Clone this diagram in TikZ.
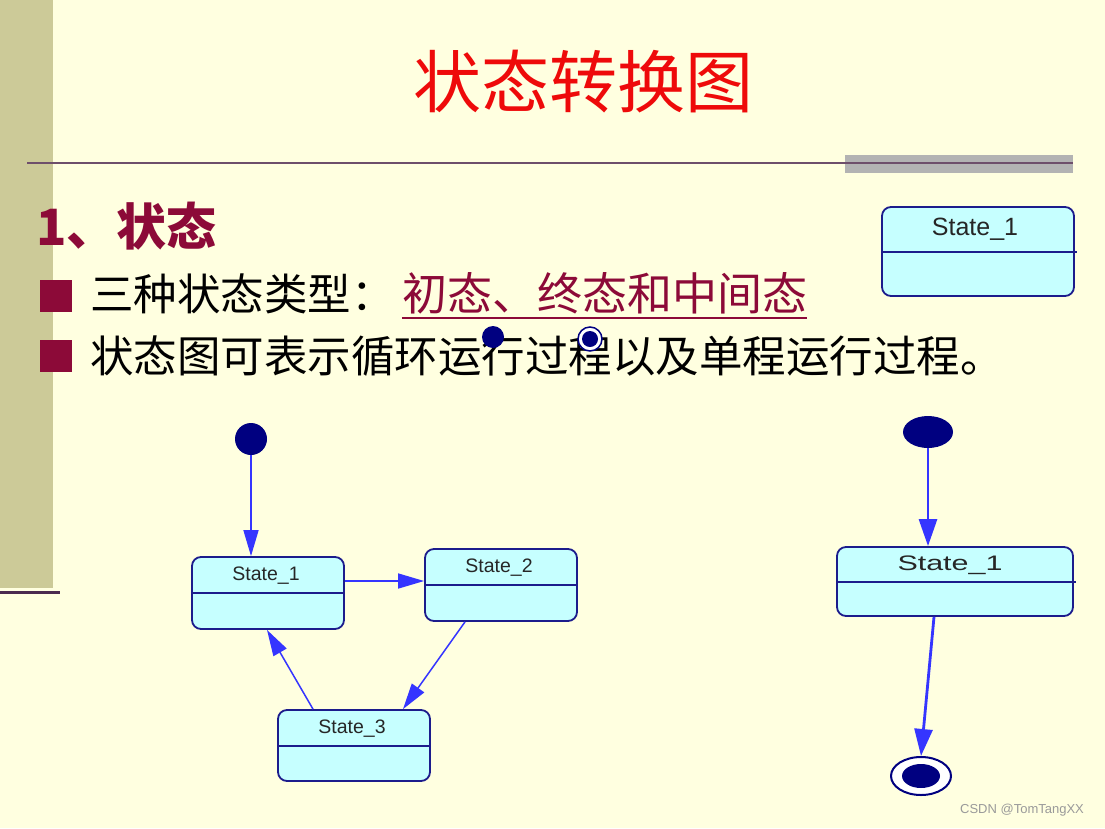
\documentclass[tikz,border=0pt]{standalone}
\usepackage{fontspec}
\setmainfont{Liberation Sans}
\newfontfamily\cjk{Noto Sans CJK SC}
\usetikzlibrary{arrows.meta,shapes.geometric}
\definecolor{bgc}{HTML}{FFFFE0}
\definecolor{barc}{HTML}{CCCA98}
\definecolor{hlinec}{HTML}{6E4F6B}
\definecolor{botline}{HTML}{4B2A4F}
\definecolor{grayc}{HTML}{B3B3B3}
\definecolor{titlered}{HTML}{EE0A0A}
\definecolor{darkred}{HTML}{8C0A38}
\definecolor{navy}{HTML}{000080}
\definecolor{boxfill}{HTML}{C6FFFF}
\definecolor{boxline}{HTML}{1C1C8C}
\definecolor{arrblue}{HTML}{3535FF}
\definecolor{wmgray}{HTML}{9A9A9A}
\tikzset{
  statebox/.style={draw=boxline, fill=boxfill, line width=1.8pt, rounded corners=9pt, inner sep=0pt},
  divider/.style={draw=boxline, line width=1.8pt},
  slabel/.style={inner sep=0pt, text=black!85},
  arr/.style={draw=arrblue, line width=1.5pt, -{Triangle[length=26pt,width=15pt]}},
  arrb/.style={draw=arrblue, line width=2.8pt, -{Triangle[length=27pt,width=18pt]}},
  bullet/.style={fill=darkred, minimum size=32pt, inner sep=0pt},
  cjktext/.style={inner sep=0pt, anchor=base west, font=\cjk\fontsize{43.5pt}{48pt}\selectfont},
}
\begin{document}
\begin{tikzpicture}[x=1pt,y=-1pt]
\useasboundingbox (0,0) rectangle (1105,828);
\fill[bgc] (0,0) rectangle (1105,828);
\fill[barc] (0,0) rectangle (53,588);
\draw[botline, line width=3pt] (0,592) -- (60,592);
\fill[grayc] (845,155) rectangle (1073,173);
\draw[hlinec, line width=2.5pt] (27,163) -- (1073,163);

% title
\node[inner sep=0pt, anchor=base, text=titlered, font=\cjk\fontsize{68pt}{72pt}\selectfont] (title) at (583,107) {状态转换图};

% heading
\node[inner sep=0pt, anchor=base west, text=darkred, font=\cjk\bfseries\fontsize{50pt}{54pt}\selectfont] (head) at (36,245) {1、状态};

% bullets
\node[bullet] (b1) at (56,296) {};
\node[bullet] (b2) at (56,356) {};
\node[cjktext] (l1a) at (90,310) {三种状态类型：};
\node[cjktext, text=darkred, xshift=7pt, font=\cjk\fontsize{45pt}{48pt}\selectfont] (l1b) at (l1a.base east) {初态、终态和中间态};
\draw[darkred, line width=2pt] ([yshift=-8pt]l1b.base west) -- ([yshift=-8pt]l1b.base east);
\node[cjktext] (l2) at (90,372) {状态图可表示循环运行过程以及单程运行过程。};

% small icons over text
\node[circle, fill=navy, minimum size=22pt, inner sep=0pt] (d1) at (493,337) {};
\node[circle, draw=navy, line width=1.5pt, fill=white, minimum size=24pt, inner sep=0pt] (d2) at (590,339) {};
\fill[navy] (d2.center) circle[radius=8pt];

% top-right state
\node[statebox, minimum width=192pt, minimum height=89pt] (t1) at (978,251.5) {};
\draw[divider] (t1.west |- 0,252) -- ([xshift=2pt]t1.east |- 0,252);
\node[slabel, font=\fontsize{25pt}{28pt}\selectfont] (t1l) at (975,229) {State\_1};

% left diagram
\node[circle, fill=navy, minimum size=32pt, inner sep=0pt] (i1) at (251,439) {};
\node[statebox, minimum width=152pt, minimum height=72pt] (s1) at (268,593) {};
\draw[divider] (s1.west |- 0,593) -- (s1.east |- 0,593);
\node[slabel, font=\fontsize{19.5pt}{22pt}\selectfont] (s1l) at (266,576) {State\_1};

\node[statebox, minimum width=152pt, minimum height=72pt] (s2) at (501,585) {};
\draw[divider] (s2.west |- 0,585) -- (s2.east |- 0,585);
\node[slabel, font=\fontsize{19.5pt}{22pt}\selectfont] (s2l) at (499,568) {State\_2};

\node[statebox, minimum width=152pt, minimum height=71pt] (s3) at (354,745.5) {};
\draw[divider] (s3.west |- 0,746) -- (s3.east |- 0,746);
\node[slabel, font=\fontsize{19.5pt}{22pt}\selectfont] (s3l) at (352,729) {State\_3};

\draw[arr] (i1) -- (i1 |- s1.north);
\draw[arr] (s1.east |- 0,581) -- (s2.west |- 0,581);
\draw[arr] (s2.south -| 465,0) -- (s3.north -| 403,0);
\draw[arr] (s3.north -| 313,0) -- (s1.south -| 267,0);

% right diagram
\node[ellipse, fill=navy, minimum width=50pt, minimum height=32pt, inner sep=0pt] (i2) at (928,432) {};
\node[statebox, minimum width=236pt, minimum height=69pt] (r1) at (955,581.5) {};
\draw[divider] (r1.west |- 0,582) -- ([xshift=2pt]r1.east |- 0,582);
\node[slabel, font=\fontsize{21pt}{24pt}\selectfont, xscale=1.45] (r1l) at (950,565) {State\_1};
\node[ellipse, draw=navy, line width=2pt, fill=white, minimum width=60pt, minimum height=38pt, inner sep=0pt] (f) at (921,776) {};
\fill[navy] (f.center) ellipse[x radius=19pt, y radius=12pt];

\draw[arrb] (i2) -- (i2 |- r1.north);
\draw[arrb] (r1.south -| 934,0) -- (f.north);

% watermark
\node[inner sep=0pt, text=wmgray, font=\fontsize{13pt}{15pt}\selectfont] (wm) at (1022,810) {CSDN @TomTangXX};
\end{tikzpicture}
\end{document}
